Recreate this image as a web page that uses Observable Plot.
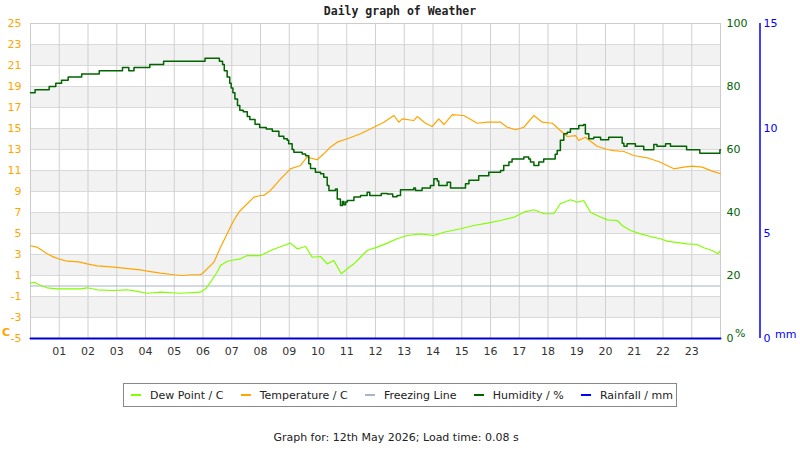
<!DOCTYPE html>
<html>
<head>
<meta charset="utf-8">
<script src="https://cdn.jsdelivr.net/npm/d3@7"></script>
<script src="https://cdn.jsdelivr.net/npm/@observablehq/plot@0.6"></script>
<style>
  html, body { margin: 0; padding: 0; background: #fff; }
  #wrap { position: relative; width: 800px; height: 450px; font-family: "DejaVu Sans", sans-serif; color: #222; }
  #title { position: absolute; left: 0; width: 800px; top: 5px; text-align: center; font-family: "DejaVu Sans Mono", monospace; font-weight: bold; font-size: 11.5px; line-height: 13px; color: #222; }
  #chart { position: absolute; left: 0; top: 0; }
  .unit { position: absolute; font-size: 11px; line-height: 11px; }
  #legend { position: absolute; left: 123px; top: 383px; border: 1px solid #888; display: flex; align-items: center; justify-content: space-between; padding: 0 3px 0 7px; box-sizing: border-box; width: 554px; height: 24px; font-size: 11px; color: #222; }
  .item { display: flex; align-items: center; white-space: nowrap; }
  .sw { display: inline-block; width: 10px; height: 2px; margin-right: 9px; }
  #caption { position: absolute; left: 0; width: 792px; top: 432px; text-align: center; font-size: 11px; line-height: 12px; color: #222; }
</style>
</head>
<body>
<div id="wrap">
  <div id="chart"></div>
  <div id="title"></div>
  <span class="unit" id="uC" style="left:2px;top:327px;color:#ffa500;font-weight:bold;font-size:11px;">C</span>
  <span class="unit" id="uPct" style="left:735px;top:328px;color:#006400;">%</span>
  <span class="unit" id="uMm" style="left:775px;top:329px;color:#0000ff;">mm</span>
  <div id="legend"></div>
  <div id="caption"></div>
</div>
<script>
// ---- Text ----
const titleText = "Daily graph of Weather";
const captionText = "Graph for: 12th May 2026; Load time: 0.08 s";
const seriesNames = ["Dew Point / C", "Temperature / C", "Freezing Line", "Humidity / %", "Rainfall / mm"];
const seriesColors = ["#80ff00", "#ffa500", "#a8b4c8", "#006400", "#0000ff"];

// ---- Ticks ----
const hourTicks = [1,2,3,4,5,6,7,8,9,10,11,12,13,14,15,16,17,18,19,20,21,22,23];
const tempTicks = [-5,-3,-1,1,3,5,7,9,11,13,15,17,19,21,23,25];
const humTicks = [0,20,40,60,80,100];
const rainTicks = [0,5,10,15];
const dayDomain = [0,24];
const tempDomain = [-5,25];
const humDomain = [0,100];
const rainDomain = [0,15];
const freezing = [0];

// ---- Temperature (C) ----
const tempHours = [0,0.23,0.41,0.58,0.81,0.98,1.28,1.68,1.97,2.32,2.9,3.48,3.83,4.06,4.52,4.99,5.28,5.6,5.91,6.03,6.2,6.38,6.61,6.84,7.01,7.07,7.25,7.3,7.54,7.77,8.0,8.11,8.35,8.7,9.04,9.39,9.62,9.97,10.2,10.43,10.67,11.02,11.48,11.94,12.29,12.64,12.81,12.93,13.33,13.45,13.74,13.97,14.2,14.38,14.67,15.07,15.54,15.89,16.35,16.58,16.87,17.16,17.51,17.8,18.15,18.43,18.67,18.96,19.07,19.3,19.48,19.71,20.06,20.29,20.64,20.98,21.45,21.91,22.38,22.72,23.02,23.36,23.71,24];
const temperature = [3.83,3.7,3.38,3.07,2.75,2.59,2.36,2.3,2.11,1.92,1.79,1.64,1.54,1.41,1.22,1.07,1.0,1.07,1.07,1.31,1.79,2.27,3.7,4.97,5.92,6.24,7.03,7.19,7.83,8.46,8.62,8.62,9.1,10.21,11.16,11.48,12.27,12.02,12.59,13.22,13.7,14.02,14.5,15.12,15.6,16.24,15.6,15.92,15.76,16.14,15.5,15.19,15.92,15.38,16.33,16.24,15.5,15.6,15.6,15.12,14.88,15.12,16.24,15.6,15.5,14.81,14.24,14.33,13.86,14.17,13.79,13.31,13.0,12.9,12.81,12.43,12.21,11.79,11.16,11.32,11.41,11.32,10.94,10.69];

// ---- Dew point (C) ----
const dewHours = [0,0.14,0.35,0.58,0.93,1.28,1.74,1.97,2.32,2.9,3.36,3.71,4.06,4.52,5.22,5.91,6.09,6.26,6.49,6.61,6.84,6.96,7.3,7.54,8.0,8.35,8.81,9.04,9.28,9.57,9.8,10.09,10.32,10.55,10.81,11.02,11.25,11.48,11.71,12.06,12.41,12.75,13.1,13.57,14.03,14.38,14.96,15.42,15.89,16.35,16.81,17.16,17.51,17.85,18.2,18.43,18.78,19.02,19.24,19.48,19.71,20.06,20.41,20.58,20.87,21.22,21.57,21.91,22.15,22.38,22.84,23.19,23.42,23.71,23.91,23.98];
const dewPoint = [0.27,0.36,0.05,-0.17,-0.27,-0.27,-0.27,-0.17,-0.36,-0.43,-0.36,-0.52,-0.69,-0.59,-0.69,-0.59,-0.27,0.36,1.31,1.95,2.36,2.43,2.59,2.9,2.9,3.38,3.86,4.08,3.54,3.76,2.74,2.81,2.11,2.43,1.16,1.64,2.11,2.74,3.38,3.7,4.08,4.5,4.81,4.97,4.81,5.12,5.45,5.76,5.98,6.24,6.55,7.03,7.26,6.88,6.88,7.83,8.21,7.98,8.14,7.03,6.71,6.3,6.24,5.76,5.29,4.97,4.71,4.5,4.27,4.17,4.02,3.95,3.64,3.38,3.07,3.31];

// ---- Humidity (%) ----
const humHours = [0,0.16,0.65,0.88,1.08,1.31,1.78,2.39,3.2,3.42,3.6,4.15,4.63,6.07,6.57,6.68,6.74,6.84,6.93,6.98,7.04,7.11,7.2,7.28,7.4,7.54,7.63,7.81,7.97,8.2,8.41,8.64,8.81,8.93,8.98,9.1,9.16,9.45,9.57,9.68,9.74,9.91,10.09,10.2,10.32,10.38,10.61,10.67,10.78,10.85,10.9,10.96,11.02,11.25,11.48,11.71,11.8,12.06,12.2,12.41,12.6,12.75,12.87,13.33,13.39,13.62,13.91,14.03,14.15,14.2,14.49,14.61,14.96,15.13,15.25,15.59,15.94,16.35,16.46,16.64,16.75,17.16,17.33,17.39,17.51,17.68,17.85,18.15,18.25,18.32,18.43,18.55,18.67,18.78,18.96,19.07,19.24,19.3,19.42,19.59,19.83,20.11,20.41,20.58,20.64,20.75,21.04,21.33,21.57,21.68,21.79,22.09,22.26,22.82,23.28,23.98,24];
const humidity = [78,79,80,81,82,83,84,85,86,85,86,87,88,89,88,87,85,83,81,79.5,78,76,74,72.5,72,70.5,69.5,68,67,66.5,65.8,64.2,63.4,62.9,61.8,60,59.1,58.6,58,55.5,54,52.8,52.3,51.2,48.6,47,47.5,44.3,42.2,43.5,42.5,43.3,43.8,44.9,45.4,46.4,45.4,45.4,46,45.9,45,45.4,47.2,47.8,47,47.8,48.6,50.7,50,48.6,49.6,47.8,47.8,49.1,50.2,51.7,52.8,53.3,54.9,56,57,57.6,57,56,54.9,56,57,57,58.5,59.7,62.9,65,65.5,66.6,66.6,67.6,67.9,65,63.4,63.9,63.1,63.9,63.9,62,61,61.8,61,59.9,59.9,61.6,61,61.8,61,59.9,58.8,59.9,59.9];

// ---- Rainfall (mm) ----
const rainHours = [0,24];
const rainfall = [0,0];

// ---- Build ----
const span = (a, b) => (b[1] - b[0]) / (a[1] - a[0]);
const humToY = h => tempDomain[0] + (h - humDomain[0]) * span(humDomain, tempDomain);
const rainToY = r => tempDomain[0] + (r - rainDomain[0]) * span(rainDomain, tempDomain);
const yToHum = y => String(Math.round(humDomain[0] + (y - tempDomain[0]) / span(humDomain, tempDomain)));
const yToRain = y => String(Math.round(rainDomain[0] + (y - tempDomain[0]) / span(rainDomain, tempDomain)));

const tempData = tempHours.map((h, i) => ({h, v: temperature[i]}));
const dewData = dewHours.map((h, i) => ({h, v: dewPoint[i]}));
const humData = humHours.map((h, i) => ({h, v: humToY(humidity[i])}));
const rainData = rainHours.map((h, i) => ({h, v: rainToY(rainfall[i])}));
const bandLows = tempTicks.filter((t, i) => i % 2 === 1 && i < tempTicks.length - 1);
const bandStep = tempTicks[1] - tempTicks[0];

const rainAxisLine = (index, scales, values, dimensions) => {
  const x = dimensions.width - dimensions.marginRight + 40;
  const g = d3.create("svg:line")
    .attr("x1", x).attr("x2", x)
    .attr("y1", scales.y(rainToY(rainDomain[1])))
    .attr("y2", scales.y(rainToY(rainDomain[0])))
    .attr("stroke", seriesColors[4]).attr("stroke-width", 1.5);
  return g.node();
};

const chart = Plot.plot({
  width: 800,
  height: 360,
  marginLeft: 30,
  marginRight: 80,
  marginTop: 23,
  marginBottom: 22,
  style: {fontFamily: "DejaVu Sans, sans-serif", fontSize: "11px", background: "transparent"},
  x: {domain: dayDomain},
  y: {domain: tempDomain},
  marks: [
    Plot.rect(bandLows, {x1: () => dayDomain[0], x2: () => dayDomain[1], y1: d => d, y2: d => d + bandStep, fill: "#f2f2f2"}),
    Plot.ruleY(tempTicks, {stroke: "#d9d9d9"}),
    Plot.ruleX(hourTicks, {stroke: "#d0d0d0"}),
    Plot.frame({stroke: "#cccccc"}),
    Plot.ruleY(freezing, {stroke: seriesColors[2], strokeWidth: 1}),
    Plot.line(dewData, {x: "h", y: "v", stroke: seriesColors[0], strokeWidth: 1.2}),
    Plot.line(tempData, {x: "h", y: "v", stroke: seriesColors[1], strokeWidth: 1.2}),
    Plot.line(humData, {x: "h", y: "v", stroke: seriesColors[3], strokeWidth: 1.5, curve: "step-after"}),
    Plot.line(rainData, {x: "h", y: "v", stroke: "#0000cc", strokeWidth: 2}),
    Plot.axisX(hourTicks, {anchor: "bottom", tickSize: 0, tickPadding: 9, color: "#333", tickFormat: d => String(d).padStart(2, "0"), label: null}),
    Plot.axisY(tempTicks, {anchor: "left", tickSize: 0, tickPadding: 9, color: "#ffa500", tickFormat: d => String(d), label: null}),
    Plot.axisY(humTicks.map(humToY), {anchor: "right", tickSize: 0, tickPadding: 6, color: "#006400", tickFormat: yToHum, label: null}),
    Plot.axisY(rainTicks.map(rainToY), {anchor: "right", tickSize: 0, tickPadding: 43, color: "#0000ff", tickFormat: yToRain, label: null}),
    rainAxisLine
  ]
});
document.getElementById("chart").appendChild(chart);
document.getElementById("title").textContent = titleText;
document.getElementById("caption").textContent = captionText;

const legend = document.getElementById("legend");
seriesNames.forEach((name, i) => {
  const item = document.createElement("span");
  item.className = "item";
  const sw = document.createElement("span");
  sw.className = "sw";
  sw.style.background = seriesColors[i];
  item.appendChild(sw);
  item.appendChild(document.createTextNode(name));
  legend.appendChild(item);
});
</script>
</body>
</html>
